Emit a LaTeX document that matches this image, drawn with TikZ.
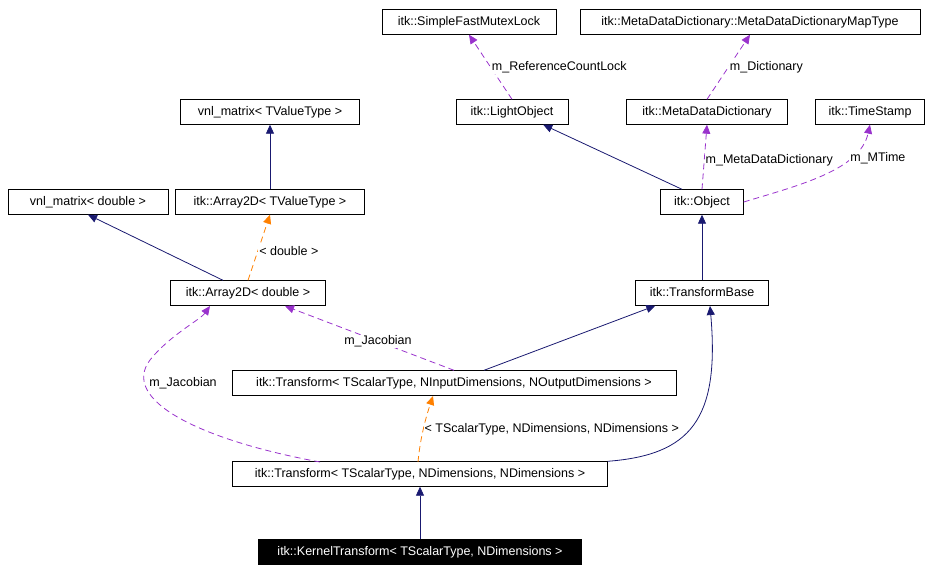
\documentclass[tikz,border=0pt]{standalone}
\usepackage{fontspec}
\setmainfont{Liberation Sans}
\usetikzlibrary{arrows.meta}
\begin{document}
\begin{tikzpicture}[x=1pt,y=-1pt,
 box/.style={draw,fill=white,minimum height=25pt,inner sep=0pt,text height=9pt,text depth=2.5pt,font=\fontsize{12.5}{14}\selectfont,anchor=center},
 inh/.style={draw={rgb,255:red,25;green,25;blue,112},line width=0.8pt,-{Triangle[length=9pt,width=8pt]}},
 mem/.style={draw={rgb,255:red,153;green,50;blue,204},dash pattern=on 6pt off 4pt,line width=0.8pt,-{Triangle[length=9pt,width=8pt]}},
 tpl/.style={draw=orange,dash pattern=on 6pt off 4pt,line width=0.8pt,-{Triangle[length=9pt,width=8pt]}},
 lbl/.style={font=\fontsize{12.5}{14}\selectfont,fill=white,inner sep=1pt}]
\useasboundingbox (0,0) rectangle (938,572);
\node[box,minimum width=174pt] (sfm) at (469,22) {itk::SimpleFastMutexLock};
\node[box,minimum width=340pt] (mdt) at (750,22) {itk::MetaDataDictionary::MetaDataDictionaryMapType};
\node[box,minimum width=179pt] (vtv) at (270,112) {vnl\_matrix< TValueType >};
\node[box,minimum width=112pt] (lo) at (512,112) {itk::LightObject};
\node[box,minimum width=161pt] (mdd) at (707,112) {itk::MetaDataDictionary};
\node[box,minimum width=109pt] (ts) at (870,112) {itk::TimeStamp};
\node[box,minimum width=160pt] (vd) at (88,202) {vnl\_matrix< double >};
\node[box,minimum width=189pt] (atv) at (270,202) {itk::Array2D< TValueType >};
\node[box,minimum width=83pt] (obj) at (702,202) {itk::Object};
\node[box,minimum width=155pt] (ad) at (248,293) {itk::Array2D< double >};
\node[box,minimum width=133pt] (tb) at (702,293) {itk::TransformBase};
\node[box,minimum width=444pt] (tio) at (454,383) {itk::Transform< TScalarType, NInputDimensions, NOutputDimensions >};
\node[box,minimum width=375pt] (tdd) at (420,474) {itk::Transform< TScalarType, NDimensions, NDimensions >};
\node[box,minimum width=323pt,fill=black,text=white] (kt) at (420,552) {itk::KernelTransform< TScalarType, NDimensions >};

\draw[mem] (lo.north) -- node[lbl,right,pos=0.5] {m\_ReferenceCountLock} (sfm.south);
\draw[mem] (mdd.north) -- node[lbl,right,pos=0.5] {m\_Dictionary} (mdt.south);
\draw[inh] ([xshift=-20pt]obj.north) -- ([xshift=-25pt]lo.south east);
\draw[mem] (obj.north) -- node[lbl,right,pos=0.45] {m\_MetaDataDictionary} (mdd.south);
\draw[mem] (obj.east) .. controls (800,185) and (860,170) .. node[lbl,pos=0.7,right] {m\_MTime} (ts.south);
\draw[inh] (atv.north) -- (vtv.south);
\draw[inh] ([xshift=-25pt]ad.north) -- (vd.south);
\draw[tpl] (ad.north) -- node[lbl,right,pos=0.45] {< double >} (atv.south);
\draw[inh] (tb.north) -- (obj.south);
\draw[inh] ([xshift=30pt]tio.north) -- ([xshift=20pt]tb.south west);
\draw[mem] (tio.north) -- node[lbl,pos=0.45] {m\_Jacobian} (285,306);
\draw[tpl] (418,462) .. controls (420,440) and (425,420) .. node[lbl,right,pos=0.5] {< TScalarType, NDimensions, NDimensions >} (433,396);
\draw[inh] (tdd.north east) .. controls (690,455) and (720,420) .. (710,306);
\draw[mem] (320,462) .. controls (200,440) and (120,400) .. (150,360) .. controls (170,335) and (200,320) .. (210,306);
\node[lbl] (jl) at (183,383) {m\_Jacobian};
\draw[inh] (kt.north) -- (tdd.south);
\end{tikzpicture}
\end{document}
